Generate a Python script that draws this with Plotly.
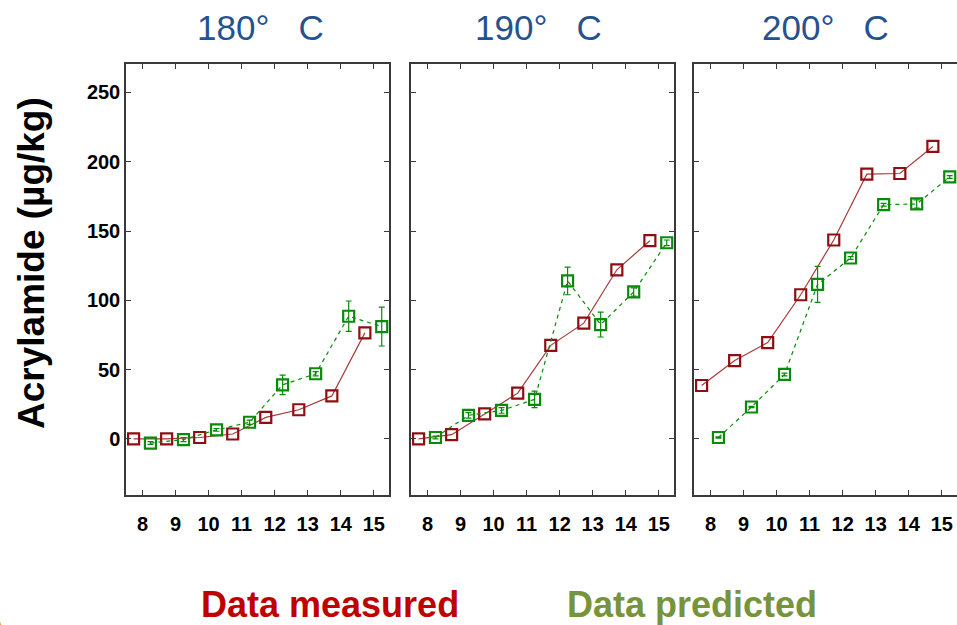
import plotly.graph_objects as go

# Categories on the x axis and tick values for the shared y axis
categories = [8, 9, 10, 11, 12, 13, 14, 15]
y_ticks = [0, 50, 100, 150, 200, 250]
panel_titles = ["180°\u00a0\u00a0\u00a0C", "190°\u00a0\u00a0\u00a0C", "200°\u00a0\u00a0\u00a0C"]

# Acrylamide (µg/kg) — measured values
measured_180 = [0, 0, 1, 3.5, 15.5, 21, 31, 76.5]
measured_190 = [0, 3, 18, 33, 67.5, 83.5, 122, 143]
measured_200 = [38.5, 56.5, 69.5, 104, 143.5, 191, 191.5, 211]

# Acrylamide (µg/kg) — model predictions with their error
predicted_180 = [-3, -0.5, 6.5, 12, 39, 47, 88.5, 81]
predicted_190 = [1, 17, 20.5, 28.5, 114, 82.5, 106, 141.5]
predicted_200 = [1, 23, 46.5, 111.5, 130.5, 169, 169.5, 189]

pred_err_180 = [1, 1.5, 1, 1.5, 7, 1.5, 11, 14]
pred_err_190 = [1, 2, 2, 6, 10, 9, 3, 2]
pred_err_200 = [0.5, 0.5, 1, 13, 1, 1, 3, 1]

measured = [measured_180, measured_190, measured_200]
predicted = [predicted_180, predicted_190, predicted_200]
pred_err = [pred_err_180, pred_err_190, pred_err_200]

# Style
W, H = 957, 625
RED = "#8E0E12"
RED_LINE = "#A8393C"
GREEN = "#0A8A0A"
TITLE_BLUE = "#25528F"
AXIS_COLOR = "#3A3A3A"
FONT = "Liberation Sans, Arial, sans-serif"
OFFSET_MEAS = -0.27
OFFSET_PRED = 0.24

# Panel placement in pixels (left, right), vertical extent shared
panels_px = [(126, 389), (411, 674), (694, 957)]
top_px, bottom_px = 64, 495

fig = go.Figure()

for i in range(3):
    xa = "x" if i == 0 else f"x{i + 1}"
    ya = "y" if i == 0 else f"y{i + 1}"
    fig.add_trace(go.Scatter(
        x=[c + OFFSET_MEAS for c in categories], y=measured[i],
        xaxis=xa, yaxis=ya, mode="lines+markers",
        line=dict(color=RED_LINE, width=1.2),
        marker=dict(symbol="square-open", size=11, color=RED,
                    line=dict(color=RED, width=2.2)),
        showlegend=False, hoverinfo="x+y",
    ))
    fig.add_trace(go.Scatter(
        x=[c + OFFSET_PRED for c in categories], y=predicted[i],
        xaxis=xa, yaxis=ya, mode="lines+markers",
        line=dict(color=GREEN, width=1.2, dash="4px,4px"),
        marker=dict(symbol="square-open", size=11, color=GREEN,
                    line=dict(color=GREEN, width=2.2)),
        error_y=dict(type="data", array=pred_err[i], visible=True,
                     color=GREEN, thickness=1.2, width=3),
        showlegend=False, hoverinfo="x+y",
    ))

layout = dict(
    width=W, height=H,
    margin=dict(l=0, r=0, t=0, b=0),
    paper_bgcolor="white", plot_bgcolor="white",
    font=dict(family=FONT, color="black"),
)

ydom = [1 - bottom_px / H, 1 - top_px / H]
for i, (l, r) in enumerate(panels_px):
    sfx = "" if i == 0 else str(i + 1)
    layout["xaxis" + sfx] = dict(
        domain=[l / W, r / W], anchor="y" + sfx,
        range=[7.5, 15.46], tickmode="array", tickvals=categories,
        ticktext=[str(c) for c in categories],
        ticks="inside", ticklen=5, tickwidth=1.2, tickcolor=AXIS_COLOR,
        showline=True, linecolor=AXIS_COLOR, linewidth=1.5, mirror="ticks",
        showgrid=False, zeroline=False,
        tickfont=dict(family=FONT, size=20, color="black", weight="bold"),
        ticklabelstandoff=10,
    )
    layout["yaxis" + sfx] = dict(
        domain=ydom, anchor="x" + sfx,
        range=[-40.5, 270.5], tickmode="array", tickvals=y_ticks,
        ticks="inside", ticklen=5, tickwidth=1.2, tickcolor=AXIS_COLOR,
        showline=True, linecolor=AXIS_COLOR, linewidth=1.5,
        # the last panel runs off the right edge, so no right-hand frame
        mirror="ticks" if i < 2 else False,
        showgrid=False, zeroline=False, showticklabels=(i == 0),
        tickfont=dict(family=FONT, size=20, color="black", weight="bold"),
    )

fig.update_layout(**layout)

annotations = []
title_centers = [260, 538, 825]
for t, cx in zip(panel_titles, title_centers):
    annotations.append(dict(
        text=t, x=cx / W, y=1 - 27 / H, xref="paper", yref="paper",
        xanchor="center", yanchor="middle", showarrow=False,
        font=dict(family=FONT, size=35, color=TITLE_BLUE),
    ))

annotations.append(dict(
    text="Acrylamide (µg/kg)", x=31 / W, y=1 - 263 / H,
    xref="paper", yref="paper", xanchor="center", yanchor="middle",
    textangle=-90, showarrow=False,
    font=dict(family=FONT, size=37, color="black", weight="bold"),
))

annotations.append(dict(
    text="Data measured", x=330 / W, y=1 - 604 / H,
    xref="paper", yref="paper", xanchor="center", yanchor="middle",
    showarrow=False,
    font=dict(family=FONT, size=36, color="#C00000", weight="bold"),
))
annotations.append(dict(
    text="Data predicted", x=692 / W, y=1 - 604 / H,
    xref="paper", yref="paper", xanchor="center", yanchor="middle",
    showarrow=False,
    font=dict(family=FONT, size=36, color="#77933C", weight="bold"),
))
fig.update_layout(annotations=annotations)

# Orange decorative disc peeking in at the lower-left corner
fig.add_shape(
    type="circle", xref="paper", yref="paper",
    x0=(-116) / W, x1=4 / W, y0=1 - 703 / H, y1=1 - 583 / H,
    fillcolor="#F79646", line=dict(width=0), layer="above",
)

fig.write_html("out.html")
